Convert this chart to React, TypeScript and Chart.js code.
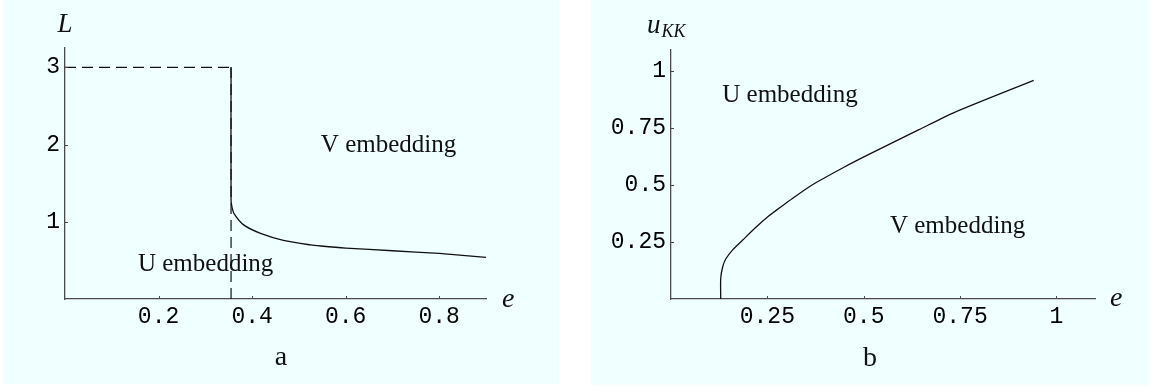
import React, { useEffect, useRef } from 'react';
import { Chart, registerables } from 'chart.js';

Chart.register(...registerables);

// ---------- Panel a data ----------
const eA = [0.355, 0.355, 0.357, 0.361, 0.382, 0.418, 0.467, 0.525, 0.547, 0.6, 0.7, 0.8, 0.9];
const LA = [3.0, 1.28, 1.19, 1.11, 0.96, 0.85, 0.76, 0.7, 0.686, 0.66, 0.625, 0.59, 0.54];
const dashHorizE = [0, 0.355];
const dashHorizL = [3, 3];
const dashVertE = [0.355, 0.355];
const dashVertL = [0, 3];
const xTicksA = [0.2, 0.4, 0.6, 0.8];
const xTickLabelsA = ['0.2', '0.4', '0.6', '0.8'];
const yTicksA = [1, 2, 3];
const yTickLabelsA = ['1', '2', '3'];

// ---------- Panel b data ----------
const eB = [0.129, 0.129, 0.134, 0.142, 0.16, 0.186, 0.221, 0.255, 0.281, 0.315, 0.367, 0.45, 0.516, 0.642, 0.733, 0.941];
const uB = [0, 0.09, 0.14, 0.175, 0.215, 0.258, 0.315, 0.365, 0.398, 0.44, 0.5, 0.578, 0.635, 0.74, 0.815, 0.957];
const xTicksB = [0.25, 0.5, 0.75, 1];
const xTickLabelsB = ['0.25', '0.5', '0.75', '1'];
const yTicksB = [0.25, 0.5, 0.75, 1];
const yTickLabelsB = ['0.25', '0.5', '0.75', '1'];

const BG = '#f0ffff';
const AXIS = '#4a4a4a';
const INK = '#111';
const SERIF = '"Liberation Serif", "DejaVu Serif", serif';
const MONO = '"Liberation Mono", "DejaVu Sans Mono", monospace';

const toPts = (xs: number[], ys: number[]) => xs.map((x, i) => ({ x, y: ys[i] }));

type Note = { text: string; x: number; y: number };

function makePlugin(opts: {
  notes: Note[];
  yTitle: (ctx: CanvasRenderingContext2D, left: number, top: number) => void;
  panelLabel: string;
  labelBaseline: number;
  eOffsetX: number;
  eOffsetY: number;
}) {
  return {
    id: 'decor',
    afterDraw(chart: any) {
      const { ctx, chartArea } = chart;
      const xs = chart.scales.x;
      const ys = chart.scales.y;
      ctx.save();
      // inward tick marks
      ctx.strokeStyle = AXIS;
      ctx.lineWidth = 1;
      for (const t of xs.ticks) {
        const px = Math.round(xs.getPixelForValue(t.value)) + 0.5;
        ctx.beginPath();
        ctx.moveTo(px, chartArea.bottom);
        ctx.lineTo(px, chartArea.bottom - 3);
        ctx.stroke();
      }
      for (const t of ys.ticks) {
        const py = Math.round(ys.getPixelForValue(t.value)) + 0.5;
        ctx.beginPath();
        ctx.moveTo(chartArea.left, py);
        ctx.lineTo(chartArea.left + 3, py);
        ctx.stroke();
      }
      // region labels
      ctx.fillStyle = INK;
      ctx.font = `25px ${SERIF}`;
      ctx.textAlign = 'left';
      ctx.textBaseline = 'alphabetic';
      for (const n of opts.notes) {
        ctx.fillText(n.text, xs.getPixelForValue(n.x), ys.getPixelForValue(n.y));
      }
      // axis titles
      ctx.font = `italic 28px ${SERIF}`;
      ctx.fillText('e', chartArea.right + opts.eOffsetX, chartArea.bottom + opts.eOffsetY);
      opts.yTitle(ctx, chartArea.left, chartArea.top);
      // panel label
      ctx.font = `28px ${SERIF}`;
      ctx.textAlign = 'center';
      ctx.fillText(opts.panelLabel, chart.width / 2, opts.labelBaseline);
      ctx.restore();
    },
  };
}

function axisScale(min: number, max: number, ticks: number[], labels: string[], isX: boolean, size: number) {
  return {
    type: 'linear',
    min,
    max,
    grid: { display: false, drawTicks: false },
    border: { display: true, color: AXIS, width: 1.3 },
    afterBuildTicks: (s: any) => {
      s.ticks = ticks.map((v) => ({ value: v }));
    },
    afterFit: (s: any) => {
      if (isX) s.height = size;
      else s.width = size;
    },
    ticks: {
      autoSkip: false,
      maxRotation: 0,
      padding: isX ? 4 : 5,
      color: '#000',
      font: { family: MONO, size: 23 },
      callback: (_v: any, i: number) => labels[i],
    },
  };
}

function Panel(props: { width: number; height: number; left: number; build: () => any }) {
  const ref = useRef<HTMLCanvasElement | null>(null);
  useEffect(() => {
    if (!ref.current) return;
    const chart = new Chart(ref.current, props.build());
    return () => chart.destroy();
  }, []);
  return (
    <div
      style={{
        position: 'absolute',
        left: props.left,
        top: 0,
        width: props.width,
        height: props.height,
        background: BG,
      }}
    >
      <canvas ref={ref} width={props.width} height={props.height} style={{ display: 'block' }} />
    </div>
  );
}

const lineDs = (data: any[], dashed: boolean) => ({
  data,
  showLine: true,
  borderColor: INK,
  borderWidth: dashed ? 1.2 : 1.3,
  borderDash: dashed ? [11, 6] : [],
  pointRadius: 0,
  tension: dashed ? 0 : 0.25,
  fill: false,
});

function buildA() {
  return {
    type: 'scatter',
    data: {
      datasets: [
        lineDs(toPts(dashHorizE, dashHorizL), true),
        lineDs(toPts(dashVertE, dashVertL), true),
        lineDs(toPts(eA, LA), false),
      ],
    },
    options: {
      responsive: false,
      maintainAspectRatio: false,
      animation: false,
      devicePixelRatio: 1,
      layout: { padding: { left: 0, right: 73, top: 48, bottom: 0 } },
      plugins: { legend: { display: false }, tooltip: { enabled: false } },
      scales: {
        x: axisScale(0, 0.9, xTicksA, xTickLabelsA, true, 85),
        y: axisScale(0, 3.25, yTicksA, yTickLabelsA, false, 62),
      },
    },
    plugins: [
      makePlugin({
        notes: [
          { text: 'V embedding', x: 0.547, y: 1.9 },
          { text: 'U embedding', x: 0.156, y: 0.36 },
        ],
        yTitle: (ctx, left, top) => {
          ctx.font = `italic 27px ${SERIF}`;
          ctx.textAlign = 'center';
          ctx.fillText('L', left, top - 16);
          ctx.textAlign = 'left';
        },
        panelLabel: 'a',
        labelBaseline: 365,
        eOffsetX: 16,
        eOffsetY: 8,
      }),
    ],
  };
}

function buildB() {
  return {
    type: 'scatter',
    data: {
      datasets: [lineDs(toPts(eB, uB), false)],
    },
    options: {
      responsive: false,
      maintainAspectRatio: false,
      animation: false,
      devicePixelRatio: 1,
      layout: { padding: { left: 0, right: 54, top: 50, bottom: 0 } },
      plugins: { legend: { display: false }, tooltip: { enabled: false } },
      scales: {
        x: axisScale(0, 1.1, xTicksB, xTickLabelsB, true, 86),
        y: axisScale(0, 1.09, yTicksB, yTickLabelsB, false, 80),
      },
    },
    plugins: [
      makePlugin({
        notes: [
          { text: 'U embedding', x: 0.133, y: 0.864 },
          { text: 'V embedding', x: 0.568, y: 0.289 },
        ],
        yTitle: (ctx, left, top) => {
          ctx.textAlign = 'left';
          ctx.font = `italic 27px ${SERIF}`;
          const ux = left - 24;
          ctx.fillText('u', ux, top - 17);
          const w = ctx.measureText('u').width;
          ctx.font = `italic 18px ${SERIF}`;
          ctx.fillText('KK', ux + w + 1, top - 13);
        },
        panelLabel: 'b',
        labelBaseline: 366,
        eOffsetX: 15,
        eOffsetY: 7,
      }),
    ],
  };
}

export default function App() {
  return (
    <div style={{ position: 'absolute', left: 0, top: 0, width: 1149, height: 387, background: '#fff' }}>
      <Panel left={3} width={556} height={384} build={buildA} />
      <Panel left={591} width={558} height={385} build={buildB} />
    </div>
  );
}
